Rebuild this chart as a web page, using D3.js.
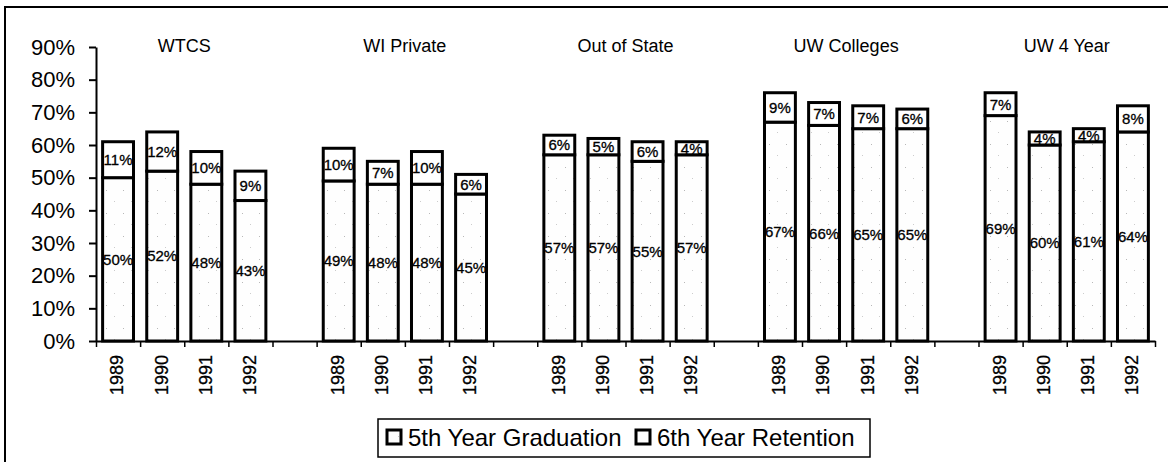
<!DOCTYPE html>
<html>
<head>
<meta charset="utf-8">
<script src="https://cdn.jsdelivr.net/npm/d3@7"></script>
<style>
  body { margin: 0; background: #fff; }
  text { font-family: "Liberation Sans", Arial, sans-serif; fill: #000; }
</style>
</head>
<body>
<div id="chart"></div>
<script>
// stacked bars: 5th year graduation + 6th year retention, per sector and year
const groups = ["WTCS", "WI Private", "Out of State", "UW Colleges", "UW 4 Year"];
const years = ["1989", "1990", "1991", "1992"];
const graduation = [
  [50, 52, 48, 43],
  [49, 48, 48, 45],
  [57, 57, 55, 57],
  [67, 66, 65, 65],
  [69, 60, 61, 64]
];
const retention = [
  [11, 12, 10, 9],
  [10, 7, 10, 6],
  [6, 5, 6, 4],
  [9, 7, 7, 6],
  [7, 4, 4, 8]
];
const yTicks = [0, 10, 20, 30, 40, 50, 60, 70, 80, 90];
const seriesNames = ["5th Year Graduation", "6th Year Retention"];

const width = 1168, height = 462;

const svg = d3.select("#chart").append("svg")
  .attr("width", width)
  .attr("height", height);

// sparse speckled fill for the graduation part
const defs = svg.append("defs");
const pat = defs.append("pattern")
  .attr("id", "speckle")
  .attr("width", 17).attr("height", 23)
  .attr("patternUnits", "userSpaceOnUse");
pat.append("rect").attr("width", 17).attr("height", 23).attr("fill", "#fefefe");
pat.append("rect").attr("x", 4).attr("y", 6).attr("width", 1).attr("height", 1).attr("fill", "#b8b8b8");
pat.append("rect").attr("x", 12).attr("y", 17).attr("width", 1).attr("height", 1).attr("fill", "#cccccc");

// outer frame (runs off the right/bottom of the page)
svg.append("rect")
  .attr("x", 5).attr("y", 7)
  .attr("width", 1220).attr("height", 500)
  .attr("fill", "none")
  .attr("stroke", "#000")
  .attr("stroke-width", 2);

// 24 slots: 4 years per group, one empty slot between groups
const slots = [];
groups.forEach((g, gi) => {
  years.forEach((y, yi) => slots.push({ key: g + "|" + y, g: gi, y: yi }));
  if (gi < groups.length - 1) slots.push({ key: "gap" + gi, gap: true });
});

const x0 = 96, x1 = 1155;
const x = d3.scaleBand()
  .domain(slots.map(d => d.key))
  .range([x0, x1])
  .padding(0);

const xEdge = d3.scaleLinear().domain([0, slots.length]).range([x0, x1]);

const y = d3.scaleLinear()
  .domain([0, 90])
  .range([341, 47]);

const barW = x.bandwidth() * 0.7;

const bars = [];
slots.filter(d => !d.gap).forEach(d => {
  const g = graduation[d.g][d.y], r = retention[d.g][d.y];
  bars.push({ key: d.key, year: years[d.y], lo: 0, hi: g, val: g, s: 0 });
  bars.push({ key: d.key, year: years[d.y], lo: g, hi: g + r, val: r, s: 1 });
});

svg.selectAll(".bar")
  .data(bars)
  .enter()
  .append("rect")
  .attr("class", "bar")
  .attr("x", d => x(d.key) + (x.bandwidth() - barW) / 2)
  .attr("y", d => y(d.hi))
  .attr("width", barW)
  .attr("height", d => y(d.lo) - y(d.hi))
  .attr("fill", d => d.s === 0 ? "url(#speckle)" : "#fff")
  .attr("stroke", "#000")
  .attr("stroke-width", 3);

svg.selectAll(".val")
  .data(bars)
  .enter()
  .append("text")
  .attr("class", "val")
  .attr("x", d => x(d.key) + x.bandwidth() / 2)
  .attr("y", d => y((d.lo + d.hi) / 2))
  .attr("dy", "0.36em")
  .attr("text-anchor", "middle")
  .style("font-size", "15px")
  .style("stroke", "#000")
  .style("stroke-width", 0.3)
  .text(d => d.val + "%");

// y axis
const yAxis = svg.append("g")
  .attr("transform", `translate(${x0},0)`)
  .call(d3.axisLeft(y)
    .tickValues(yTicks)
    .tickSize(7)
    .tickSizeOuter(0)
    .tickPadding(14)
    .tickFormat(d => d + "%"));
yAxis.select(".domain").attr("stroke-width", 2);
yAxis.selectAll(".tick line").attr("stroke-width", 2);
yAxis.selectAll("text").style("font-size", "22px").style("font-family", "Liberation Sans, Arial, sans-serif");

// x axis with ticks at slot edges
const xAxis = svg.append("g")
  .attr("transform", `translate(0,${y(0)})`)
  .call(d3.axisBottom(xEdge)
    .tickValues(d3.range(slots.length + 1))
    .tickSize(6)
    .tickSizeOuter(0)
    .tickFormat(""));
xAxis.select(".domain").attr("stroke-width", 2);
xAxis.selectAll(".tick line").attr("stroke-width", 1.5);

// year labels, rotated
svg.selectAll(".year")
  .data(slots.filter(d => !d.gap))
  .enter()
  .append("text")
  .attr("class", "year")
  .attr("transform", d => `translate(${x(d.key) + x.bandwidth() / 2 - 1},355) rotate(-90)`)
  .attr("dy", "0.35em")
  .attr("text-anchor", "end")
  .style("font-size", "18px")
  .style("stroke", "#000")
  .style("stroke-width", 0.3)
  .text(d => years[d.y]);

// group titles
svg.selectAll(".group")
  .data(groups)
  .enter()
  .append("text")
  .attr("class", "group")
  .attr("x", (d, i) => (x(d + "|1989") + x(d + "|1992") + x.bandwidth()) / 2)
  .attr("y", 52)
  .attr("text-anchor", "middle")
  .style("font-size", "18px")
  .text(d => d);

// legend
const legend = svg.append("g").attr("transform", "translate(378,419)");
legend.append("rect")
  .attr("width", 492).attr("height", 38)
  .attr("fill", "#fff")
  .attr("stroke", "#000")
  .attr("stroke-width", 1.5);

const legX = [8, 257];
const item = legend.selectAll(".leg")
  .data(seriesNames)
  .enter()
  .append("g")
  .attr("class", "leg")
  .attr("transform", (d, i) => `translate(${legX[i]},0)`);
item.append("rect")
  .attr("x", 1).attr("y", 11)
  .attr("width", 14).attr("height", 14)
  .attr("fill", (d, i) => i === 0 ? "url(#speckle)" : "#fff")
  .attr("stroke", "#000")
  .attr("stroke-width", 3);
item.append("text")
  .attr("x", 22)
  .attr("y", 27)
  .style("font-size", "24px")
  .text(d => d);
</script>
</body>
</html>
